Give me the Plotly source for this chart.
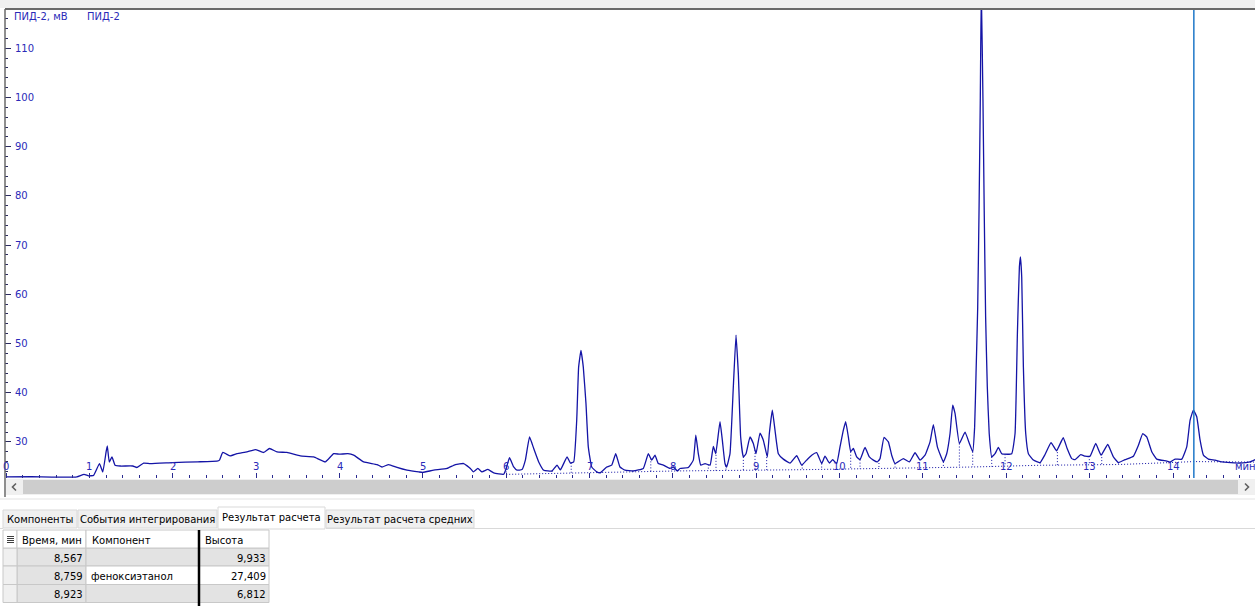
import numpy as np
import plotly.graph_objects as go

W, H = 1255, 606

# ---------------- data ----------------
time_min = [
    0.00, 0.30, 0.55, 0.85, 0.935, 0.99, 1.05, 1.12, 1.16, 1.20, 1.214, 1.238, 1.27, 1.307,
    1.37, 1.52, 1.57, 1.65, 1.73, 2.00, 2.30, 2.53, 2.56, 2.60, 2.69, 2.77, 2.89, 2.99,
    3.09, 3.16, 3.25, 3.37, 3.53, 3.69, 3.83, 3.93, 4.00, 4.10, 4.17, 4.29, 4.45, 4.51,
    4.59, 4.69, 4.81, 4.95, 5.00, 5.13, 5.29, 5.39, 5.49, 5.57, 5.605, 5.66, 5.71, 5.78,
    5.85, 5.97, 6.00, 6.04, 6.09, 6.13, 6.19, 6.23, 6.28, 6.33, 6.39, 6.45, 6.55, 6.61,
    6.65, 6.73, 6.77, 6.81, 6.846, 6.869, 6.897, 6.925, 6.957, 6.985, 7.026, 7.086, 7.125,
    7.206, 7.266, 7.314, 7.365, 7.425, 7.525, 7.645, 7.705, 7.746, 7.785, 7.825, 7.885,
    7.965, 8.005, 8.053, 8.085, 8.185, 8.245, 8.275, 8.305, 8.334, 8.386, 8.446, 8.485,
    8.514, 8.565, 8.593, 8.625, 8.645, 8.685, 8.725, 8.757, 8.785, 8.813, 8.845, 8.877,
    8.925, 8.965, 8.997, 9.045, 9.085, 9.133, 9.157, 9.193, 9.225, 9.265, 9.325, 9.405,
    9.485, 9.545, 9.605, 9.665, 9.725, 9.785, 9.825, 9.877, 9.917, 9.965, 10.005, 10.045,
    10.073, 10.105, 10.133, 10.165, 10.205, 10.245, 10.305, 10.357, 10.405, 10.453, 10.485,
    10.533, 10.585, 10.625, 10.665, 10.765, 10.837, 10.905, 10.965, 11.025, 11.085, 11.125,
    11.173, 11.245, 11.285, 11.325, 11.357, 11.385, 11.437, 11.505, 11.557, 11.597, 11.62,
    11.637, 11.657, 11.673, 11.688, 11.700, 11.720, 11.735, 11.752, 11.772, 11.795, 11.825,
    11.865, 11.905, 11.945, 11.985, 12.065, 12.105, 12.133, 12.157, 12.170, 12.185, 12.205,
    12.233, 12.265, 12.325, 12.405, 12.465, 12.537, 12.603, 12.683, 12.73, 12.785, 12.825,
    12.893, 12.945, 13.005, 13.073, 13.137, 13.217, 13.285, 13.345, 13.425, 13.525, 13.585,
    13.637, 13.685, 13.745, 13.805, 13.925, 13.965, 14.025, 14.105, 14.165, 14.205, 14.245,
    14.285, 14.325, 14.365, 14.425, 14.505, 14.585, 14.805, 14.925, 14.985,
]
signal_mv = [
    22.9, 22.95, 22.85, 22.9, 23.4, 23.1, 23.2, 25.6, 23.9, 28.0, 29.2, 25.9, 26.95, 25.27,
    25.1, 25.1, 24.8, 25.7, 25.6, 25.8, 25.95, 26.1, 26.3, 27.85, 27.15, 27.6, 27.97, 28.45,
    27.85, 28.66, 27.97, 27.85, 27.15, 26.95, 25.93, 27.6, 27.5, 27.6, 27.3, 25.93, 25.4, 24.9,
    25.4, 24.8, 24.25, 23.9, 23.8, 24.25, 24.6, 25.4, 25.6, 24.6, 23.9, 24.6, 23.9, 24.4,
    23.7, 23.43, 24.6, 26.8, 24.9, 24.25, 24.4, 26.3, 31.0, 28.66, 25.93, 24.25, 24.1, 25.27,
    24.3, 26.95, 25.7, 25.93, 34.4, 45.2, 48.6, 45.2, 37.8, 29.0, 24.9, 23.9, 23.7,
    24.9, 25.27, 27.6, 24.9, 24.25, 24.1, 24.6, 27.6, 26.3, 27.3, 25.6, 25.27,
    24.6, 24.9, 24.1, 24.6, 24.8, 26.3, 31.36, 27.6, 25.27, 25.6, 25.27, 29.1,
    27.6, 34.1, 30.35, 25.6, 24.9, 27.6, 41.2, 51.7, 43.9, 31.0, 26.95, 27.6,
    31.0, 29.67, 27.6, 31.8, 30.35, 26.95, 31.7, 36.44, 32.38, 27.6, 26.5, 25.7,
    27.2, 25.27, 26.3, 27.3, 27.8, 25.6, 27.1, 25.7, 26.4, 25.6, 29.0, 32.38,
    34.1, 31.0, 28.0, 28.66, 26.95, 26.4, 28.86, 26.95, 26.3, 25.93, 26.6,
    30.9, 30.0, 27.3, 25.6, 26.6, 25.93, 27.8, 26.3, 27.3, 30.0, 33.5,
    29.0, 25.93, 27.6, 31.7, 37.46, 35.8, 29.67, 32.0, 29.67, 28.0, 33.0,
    43.9, 57.4, 77.1, 99.5, 122.0, 99.5, 77.1, 55.4, 41.2, 31.7, 26.95,
    27.6, 28.86, 27.6, 27.5, 27.6, 31.7, 52.0, 65.6, 67.6, 63.5, 45.2,
    31.7, 27.6, 26.3, 25.8, 27.45, 29.85, 28.2, 30.85, 28.66, 26.6, 26.4,
    27.4, 27.1, 27.1, 29.67, 27.3, 29.47, 26.95, 25.8, 26.4, 27.1, 29.3,
    31.7, 31.0, 28.0, 26.5, 26.1, 25.9, 26.5, 26.5, 29.0, 34.41, 36.44,
    35.1, 30.35, 27.3, 26.5, 26.3, 25.93, 25.7, 25.93, 26.4,
]

# integration baseline and peak drop lines
base_t = [6.00, 7.12, 8.07, 9.55, 10.47, 11.60, 12.40, 13.35, 13.97, 14.25, 14.98]
base_v = [23.4, 23.75, 24.1, 24.35, 24.55, 24.9, 25.25, 25.4, 25.8, 26.0, 25.9]
drop_t = [6.00, 6.55, 6.78, 7.125, 7.52, 7.735, 8.07, 8.425, 8.517, 8.637, 8.845, 8.985,
          9.125, 9.552, 9.785, 10.133, 10.245, 10.472, 10.665, 11.245, 11.437, 11.597,
          11.825, 11.985, 12.405, 12.613, 12.996, 13.145, 13.345, 13.965, 14.805]

cursor_t = 14.25

x_tick_vals = list(range(0, 15))
y_tick_vals = [30, 40, 50, 60, 70, 80, 90, 100, 110]
y_title = "ПИД-2, мВ"
channel_name = "ПИД-2"
x_unit = "мин"

tab_labels = ["Компоненты", "События интегрирования", "Результат расчета", "Результат расчета средних"]
selected_tab = 2
col_headers = ["Время, мин", "Компонент", "Высота"]
row_times = [8.567, 8.759, 8.923]
row_components = ["", "феноксиэтанол", ""]
row_heights = [9.933, 27.409, 6.812]

# ---------------- layout geometry (pixels) ----------------
PL, PR, PT, PB = 5, 1255, 9, 478          # plot area
X0_PX, PX_PER_MIN = 6.1, 83.35            # x = 0 position and scale
Y110_PX, PX_PER_MV = 48.3, 4.92

x_range = [(PL - X0_PX) / PX_PER_MIN, (PR - X0_PX) / PX_PER_MIN]
y_range = [110 - (PB - Y110_PX) / PX_PER_MV, 110 + (Y110_PX - PT) / PX_PER_MV]


def fx(p):
    return p / W


def fy(p):
    return 1 - p / H


FONT = "DejaVu Sans"
BLUE_TXT = "#2a2ab8"
TRACE = "#1414a6"

fig = go.Figure()

fig.add_trace(go.Scatter(x=time_min, y=signal_mv, mode="lines",
                         line=dict(color=TRACE, width=1.3, shape="spline", smoothing=0.35),
                         hoverinfo="skip"))

fig.add_trace(go.Scatter(x=base_t, y=base_v, mode="lines",
                         line=dict(color=TRACE, width=1, dash="1px,2px"), hoverinfo="skip"))

dx, dy = [], []
for t in drop_t:
    top = float(np.interp(t, time_min, signal_mv))
    bot = float(np.interp(t, base_t, base_v))
    dx += [t, t, None]
    dy += [top, bot, None]
fig.add_trace(go.Scatter(x=dx, y=dy, mode="lines",
                         line=dict(color=TRACE, width=1, dash="1px,2px"), hoverinfo="skip"))

shapes = []
ann = []

# cursor line
shapes.append(dict(type="line", xref="x", yref="paper", x0=cursor_t, x1=cursor_t,
                   y0=fy(PB), y1=fy(PT), line=dict(color="#1f78c8", width=1.5)))

# window chrome
shapes.append(dict(type="rect", xref="paper", yref="paper", x0=0, x1=1, y0=fy(8), y1=1,
                   fillcolor="#f0f0f0", line=dict(width=0), layer="below"))
shapes.append(dict(type="line", xref="paper", yref="paper", x0=fx(PL), x1=1, y0=fy(9), y1=fy(9),
                   line=dict(color="#6a6a6a", width=2)))
shapes.append(dict(type="line", xref="paper", yref="paper", x0=fx(5), x1=fx(5), y0=fy(9), y1=fy(497),
                   line=dict(color="#6a6a6a", width=1.5)))
# scrollbar
shapes.append(dict(type="rect", xref="paper", yref="paper", x0=fx(6), x1=1, y0=fy(495), y1=fy(479),
                   fillcolor="#f0f0f0", line=dict(width=0)))
shapes.append(dict(type="rect", xref="paper", yref="paper", x0=fx(23), x1=fx(1238), y0=fy(494), y1=fy(480),
                   fillcolor="#cdcdcd", line=dict(width=0)))
shapes.append(dict(type="path", xref="paper", yref="paper",
                   path=f"M {fx(16)},{fy(483.5)} L {fx(12.5)},{fy(487)} L {fx(16)},{fy(490.5)}",
                   line=dict(color="#606060", width=1.6)))
shapes.append(dict(type="path", xref="paper", yref="paper",
                   path=f"M {fx(1245)},{fy(483.5)} L {fx(1248.5)},{fy(487)} L {fx(1245)},{fy(490.5)}",
                   line=dict(color="#606060", width=1.6)))
# separator under the chart pane
shapes.append(dict(type="line", xref="paper", yref="paper", x0=0, x1=1, y0=fy(499), y1=fy(499),
                   line=dict(color="#e3e3e3", width=1)))
tab_edges = [3, 78, 218, 326, 475]
for i, lab in enumerate(tab_labels):
    x0, x1 = tab_edges[i], tab_edges[i + 1] - 1
    sel = i == selected_tab
    top = 507 if sel else 510
    shapes.append(dict(type="rect", xref="paper", yref="paper", x0=fx(x0), x1=fx(x1),
                       y0=fy(529 if sel else 528), y1=fy(top),
                       fillcolor="#ffffff" if sel else "#f0f0f0",
                       line=dict(color="#d9d9d9", width=1)))
    ann.append(dict(xref="paper", yref="paper", x=fx((x0 + x1) / 2), y=fy(517 if sel else 519.5),
                    text=lab, showarrow=False, xanchor="center", yanchor="middle",
                    font=dict(family=FONT, size=10, color="#000000")))
shapes.append(dict(type="line", xref="paper", yref="paper", x0=fx(326), x1=1, y0=fy(528.5), y1=fy(528.5),
                   line=dict(color="#d9d9d9", width=1)))
shapes.append(dict(type="line", xref="paper", yref="paper", x0=0, x1=fx(3), y0=fy(528.5), y1=fy(528.5),
                   line=dict(color="#d9d9d9", width=1)))

# table
col_x = [3, 17, 86, 199, 269]
row_y = [530, 548, 566, 584.5, 602.5, 620]
for r in range(3):
    y0, y1 = row_y[r + 1], row_y[r + 2]
    for c in range(3):
        fill = "#e3e3e3" if (c == 0 or r != 1) else "#ffffff"
        shapes.append(dict(type="rect", xref="paper", yref="paper", x0=fx(col_x[c + 1]), x1=fx(col_x[c + 2]),
                           y0=fy(y1), y1=fy(y0), fillcolor=fill, line=dict(color="#c8c8c8", width=1)))
    shapes.append(dict(type="rect", xref="paper", yref="paper", x0=fx(col_x[0]), x1=fx(col_x[1]),
                       y0=fy(y1), y1=fy(y0), fillcolor="#f0f0f0", line=dict(color="#c8c8c8", width=1)))
# header
for c in range(4):
    shapes.append(dict(type="rect", xref="paper", yref="paper", x0=fx(col_x[c]), x1=fx(col_x[c + 1]),
                       y0=fy(row_y[1]), y1=fy(row_y[0]), fillcolor="#ffffff",
                       line=dict(color="#c8c8c8", width=1)))
shapes.append(dict(type="line", xref="paper", yref="paper", x0=fx(199), x1=fx(199), y0=0, y1=fy(530),
                   line=dict(color="#000000", width=2.5)))
# header icon
for k in range(4):
    shapes.append(dict(type="line", xref="paper", yref="paper", x0=fx(7), x1=fx(14),
                       y0=fy(536.5 + 2 * k), y1=fy(536.5 + 2 * k), line=dict(color="#404040", width=1)))
hdr_x = [20, 90, 203]
for c, h in enumerate(col_headers):
    ann.append(dict(xref="paper", yref="paper", x=fx(hdr_x[c]), y=fy(540), text=h, showarrow=False,
                    xanchor="left", yanchor="middle", font=dict(family=FONT, size=10, color="#000")))
row_cy = [558, 576, 594]
for r in range(3):
    ann.append(dict(xref="paper", yref="paper", x=fx(85), y=fy(row_cy[r]),
                    text=f"{row_times[r]:.3f}".replace(".", ","), showarrow=False,
                    xanchor="right", yanchor="middle", font=dict(family=FONT, size=10, color="#000")))
    if row_components[r]:
        ann.append(dict(xref="paper", yref="paper", x=fx(89), y=fy(row_cy[r]), text=row_components[r],
                        showarrow=False, xanchor="left", yanchor="middle",
                        font=dict(family=FONT, size=10, color="#000")))
    ann.append(dict(xref="paper", yref="paper", x=fx(268), y=fy(row_cy[r]),
                    text=f"{row_heights[r]:.3f}".replace(".", ","), showarrow=False,
                    xanchor="right", yanchor="middle", font=dict(family=FONT, size=10, color="#000")))

# axis labels (inside plot)
for v in x_tick_vals:
    ann.append(dict(xref="x", yref="paper", x=v, y=fy(466), text=str(v), showarrow=False,
                    xanchor="center", yanchor="middle", font=dict(family=FONT, size=10, color=BLUE_TXT)))
for v in y_tick_vals:
    ann.append(dict(xref="paper", yref="y", x=fx(13), y=v, text=str(v), showarrow=False,
                    xanchor="left", yanchor="middle", font=dict(family=FONT, size=10, color=BLUE_TXT)))
ann.append(dict(xref="paper", yref="paper", x=fx(1233), y=fy(466), text=x_unit, showarrow=False,
                xanchor="left", yanchor="middle", font=dict(family=FONT, size=10, color=BLUE_TXT)))
ann.append(dict(xref="paper", yref="paper", x=fx(12), y=fy(17), text=y_title, showarrow=False,
                xanchor="left", yanchor="middle", font=dict(family=FONT, size=10, color=BLUE_TXT)))
ann.append(dict(xref="paper", yref="paper", x=fx(85), y=fy(17), text=channel_name, showarrow=False,
                xanchor="left", yanchor="middle", font=dict(family=FONT, size=10, color=BLUE_TXT)))

fig.update_layout(
    width=W, height=H, margin=dict(l=0, r=0, t=0, b=0),
    paper_bgcolor="#ffffff", plot_bgcolor="#ffffff", showlegend=False,
    shapes=shapes, annotations=ann,
    xaxis=dict(domain=[fx(PL), 1], range=x_range, showgrid=False, zeroline=False, showline=False,
               ticks="inside", tick0=0, dtick=1, ticklen=5, tickcolor="#2a2a90", tickwidth=1,
               showticklabels=False, fixedrange=True,
               minor=dict(ticks="inside", dtick=0.2, ticklen=3, tickcolor="#2a2a90", tickwidth=1)),
    yaxis=dict(domain=[fy(PB), fy(PT)], range=y_range, showgrid=False, zeroline=False, showline=False,
               ticks="inside", tick0=0, dtick=10, ticklen=6, tickcolor="#2a2a60", tickwidth=1,
               showticklabels=False, fixedrange=True,
               minor=dict(ticks="inside", dtick=2, ticklen=3, tickcolor="#2a2a60", tickwidth=1)),
)

fig.write_html("out.html", config={"displayModeBar": False},
               post_script="document.body.style.margin='0';document.body.style.overflow='hidden';")
